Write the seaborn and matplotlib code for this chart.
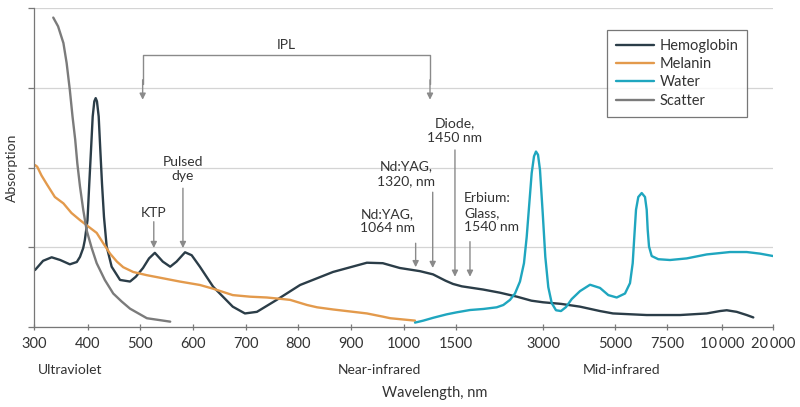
import numpy as np
import pandas as pd
import matplotlib
matplotlib.use("Agg")
import matplotlib.pyplot as plt
import seaborn as sns
from matplotlib.lines import Line2D

sns.set_theme(style="white")
plt.rcParams["font.family"] = ["Lato", "DejaVu Sans"]
plt.rcParams["font.size"] = 10

# --- data (wavelength in nm, absorption in relative units) ---
tick_wl = [300, 400, 500, 600, 700, 800, 900, 1000, 1500, 3000, 5000, 7500, 10000, 20000]
tick_labels = ["300", "400", "500", "600", "700", "800", "900", "1000", "1500",
               "3000", "5000", "7500", "10\u2009000", "20\u2009000"]

hemo_wl = [302, 317, 333, 349, 367, 380, 386, 392, 395, 400, 403.4, 406.7, 409.9, 413,
           415.6, 418, 421.3, 424.4, 427.6, 431.4, 436.5, 446, 462, 481, 492, 505.7, 517,
           528, 543, 557, 569, 585, 597.5, 613, 638, 675, 698, 721, 759, 804, 866, 930,
           960, 992, 1154, 1279, 1400, 1471, 1600, 1966, 2259, 2552, 2800, 3000, 3500,
           4028, 4583, 4944, 6524, 8091, 9304, 9909, 10922, 12882, 14843, 16137]
hemo_ab = [0.715, 0.83, 0.874, 0.84, 0.786, 0.815, 0.88, 0.99, 1.09, 1.34, 1.80, 2.22,
           2.64, 2.83, 2.87, 2.83, 2.64, 2.22, 1.80, 1.38, 1.01, 0.756, 0.59, 0.57, 0.63,
           0.74, 0.86, 0.93, 0.82, 0.756, 0.82, 0.937, 0.90, 0.756, 0.505, 0.255, 0.17,
           0.19, 0.34, 0.527, 0.69, 0.806, 0.80, 0.74, 0.70, 0.66, 0.58, 0.54, 0.51, 0.47,
           0.43, 0.38, 0.33, 0.31, 0.29, 0.255, 0.20, 0.17, 0.15, 0.15, 0.17, 0.20, 0.21,
           0.19, 0.15, 0.12]

melanin_wl = [302, 306, 314, 324, 339, 355, 370, 386, 401.5, 417.5, 430, 443, 456, 468,
              487, 512.6, 544, 575, 613, 638, 675, 708, 740, 771, 785, 817, 836, 866, 930,
              960, 974, 1106]
melanin_ab = [2.03, 2.01, 1.90, 1.79, 1.63, 1.55, 1.43, 1.34, 1.26, 1.18, 1.05, 0.92,
              0.82, 0.75, 0.69, 0.65, 0.61, 0.57, 0.527, 0.48, 0.40, 0.38, 0.37, 0.35,
              0.34, 0.276, 0.247, 0.22, 0.17, 0.13, 0.11, 0.08]

water_wl = [1106, 1186, 1282, 1411, 1512, 1741, 1971, 2202, 2316, 2431, 2517, 2603, 2672,
            2719, 2764, 2805, 2845, 2879, 2914, 2948, 2995, 3064, 3147, 3242, 3361, 3500,
            3639, 3797, 4028, 4306, 4583, 4814, 5082, 5481, 5721, 5851, 5928, 6010, 6120,
            6284, 6442, 6524, 6572, 6635, 6764, 7082, 7636, 8395, 9305, 11569, 14843,
            17451, 20000]
water_ab = [0.055, 0.08, 0.116, 0.159, 0.184, 0.213, 0.226, 0.247, 0.276, 0.34, 0.42,
            0.57, 0.80, 1.13, 1.55, 1.93, 2.14, 2.20, 2.16, 1.97, 1.43, 0.88, 0.50, 0.30,
            0.21, 0.20, 0.25, 0.35, 0.45, 0.53, 0.49, 0.40, 0.37, 0.42, 0.55, 0.80, 1.13,
            1.47, 1.63, 1.68, 1.63, 1.47, 1.22, 1.01, 0.89, 0.85, 0.84, 0.86, 0.91, 0.94,
            0.94, 0.92, 0.89]

scatter_wl = [336, 345, 355, 361, 367, 372, 377, 381, 386, 392, 398.5, 408, 417.5, 433,
              449, 465, 481, 513, 557]
scatter_ab = [3.88, 3.77, 3.56, 3.31, 2.97, 2.64, 2.35, 2.05, 1.76, 1.47, 1.21, 0.99, 0.80,
              0.59, 0.42, 0.32, 0.23, 0.11, 0.067]

series = ["Hemoglobin", "Melanin", "Water", "Scatter"]
colors = ["#2b3d48", "#e39a4c", "#1fa6bf", "#7b7b7b"]

df = pd.concat([
    pd.DataFrame({"wl": hemo_wl, "ab": hemo_ab, "series": "Hemoglobin"}),
    pd.DataFrame({"wl": melanin_wl, "ab": melanin_ab, "series": "Melanin"}),
    pd.DataFrame({"wl": water_wl, "ab": water_ab, "series": "Water"}),
    pd.DataFrame({"wl": scatter_wl, "ab": scatter_ab, "series": "Scatter"}),
])

# piecewise axis: the ticks are not evenly spaced in nm
tick_pos = [34, 87.5, 140, 193, 246, 298, 351, 404, 456, 543, 615, 667, 722, 773]


def fwd(x):
    return np.interp(x, tick_wl, tick_pos)


def inv(p):
    return np.interp(p, tick_pos, tick_wl)


fig = plt.figure(figsize=(8, 4.07), dpi=100)
ax = fig.add_axes([34 / 800, 1 - 327 / 407, (773 - 34) / 800, (327 - 8) / 407])
ax.set_xscale("function", functions=(fwd, inv))

sns.lineplot(data=df, x="wl", y="ab", hue="series", hue_order=series,
             palette=colors, estimator=None, sort=False, linewidth=1.7,
             legend=False, ax=ax)
for line in ax.get_lines():
    line.set_solid_joinstyle("round")
    line.set_solid_capstyle("round")

ax.set_xlim(300, 20000)
ax.set_ylim(0, 4)
ax.set_xticks(tick_wl)
ax.set_xticklabels(tick_labels)
ax.xaxis.set_minor_locator(matplotlib.ticker.NullLocator())
ax.set_yticks([0, 1, 2, 3, 4])
ax.set_yticklabels([])
ax.set_xlabel("")
ax.set_ylabel("Absorption", fontsize=10, color="#333333", labelpad=4)
ax.grid(axis="y", color="#d4d4d4", linewidth=0.9)
ax.set_axisbelow(True)
for side in ["top", "right"]:
    ax.spines[side].set_visible(False)
for side in ["left", "bottom"]:
    ax.spines[side].set_color("#777777")
    ax.spines[side].set_linewidth(0.9)
ax.tick_params(axis="x", direction="inout", length=5, width=0.9, color="#777777",
               pad=5, labelsize=10.5, labelcolor="#333333")
ax.tick_params(axis="y", direction="out", length=4, width=0.9, color="#777777")
ax.tick_params(bottom=True, left=True)

# laser annotations
gray = "#8a8a8a"
arrow = dict(arrowstyle="-|>", color=gray, lw=1, mutation_scale=9, shrinkA=0, shrinkB=0)
txt = dict(fontsize=10, color="#333333", ha="center", va="center", linespacing=1.25)

# IPL bracket
ax.plot([505, 505, 1250, 1250], [3.05, 3.41, 3.41, 3.05], color=gray, lw=1)
ax.annotate("", xy=(505, 2.85), xytext=(505, 3.1), arrowprops=arrow)
ax.annotate("", xy=(1250, 2.85), xytext=(1250, 3.1), arrowprops=arrow)
ax.text(777, 3.53, "IPL", **txt)

ax.annotate("", xy=(526, 0.99), xytext=(526, 1.32), arrowprops=arrow)
ax.text(526, 1.43, "KTP", **txt)
ax.annotate("", xy=(581, 0.99), xytext=(581, 1.74), arrowprops=arrow)
ax.text(581, 1.98, "Pulsed\ndye", **txt)
ax.annotate("", xy=(1112, 0.75), xytext=(1112, 1.05), arrowprops=arrow)
ax.text(968, 1.33, "Nd:YAG,\n1064 nm", **txt)
ax.annotate("", xy=(1276, 0.74), xytext=(1276, 1.69), arrowprops=arrow)
ax.text(1019, 1.92, "Nd:YAG,\n1320, nm", **txt)
ax.annotate("", xy=(1490, 0.63), xytext=(1490, 2.22), arrowprops=arrow)
ax.text(1490, 2.46, "Diode,\n1450 nm", **txt)
ax.annotate("", xy=(1741, 0.63), xytext=(1741, 1.07), arrowprops=arrow)
ax.text(1638, 1.43, "Erbium:\nGlass,\n1540 nm", **{**txt, "ha": "left"})

# spectral regions and axis title
fig.text(38 / 800, 1 - 370 / 407, "Ultraviolet", fontsize=10, color="#333333", va="center")
fig.text(379 / 800, 1 - 370 / 407, "Near-infrared", fontsize=10, color="#333333",
         va="center", ha="center")
fig.text(583 / 800, 1 - 370 / 407, "Mid-infrared", fontsize=10, color="#333333", va="center")
fig.text(435 / 800, 1 - 393 / 407, "Wavelength, nm", fontsize=10.5, color="#333333",
         va="center", ha="center")

handles = [Line2D([], [], color=c, lw=1.7) for c in colors]
leg = ax.legend(handles, series, loc="upper right", bbox_to_anchor=(747 / 800, 1 - 30 / 407),
                bbox_transform=fig.transFigure, frameon=True, fancybox=False,
                edgecolor="#555555", fontsize=10.5, handlelength=2.6, handletextpad=0.4,
                labelspacing=0.3, borderpad=0.6, borderaxespad=0)
leg.get_frame().set_linewidth(0.9)
for t in leg.get_texts():
    t.set_color("#333333")

fig.savefig("out.png", dpi=100, facecolor="white")
